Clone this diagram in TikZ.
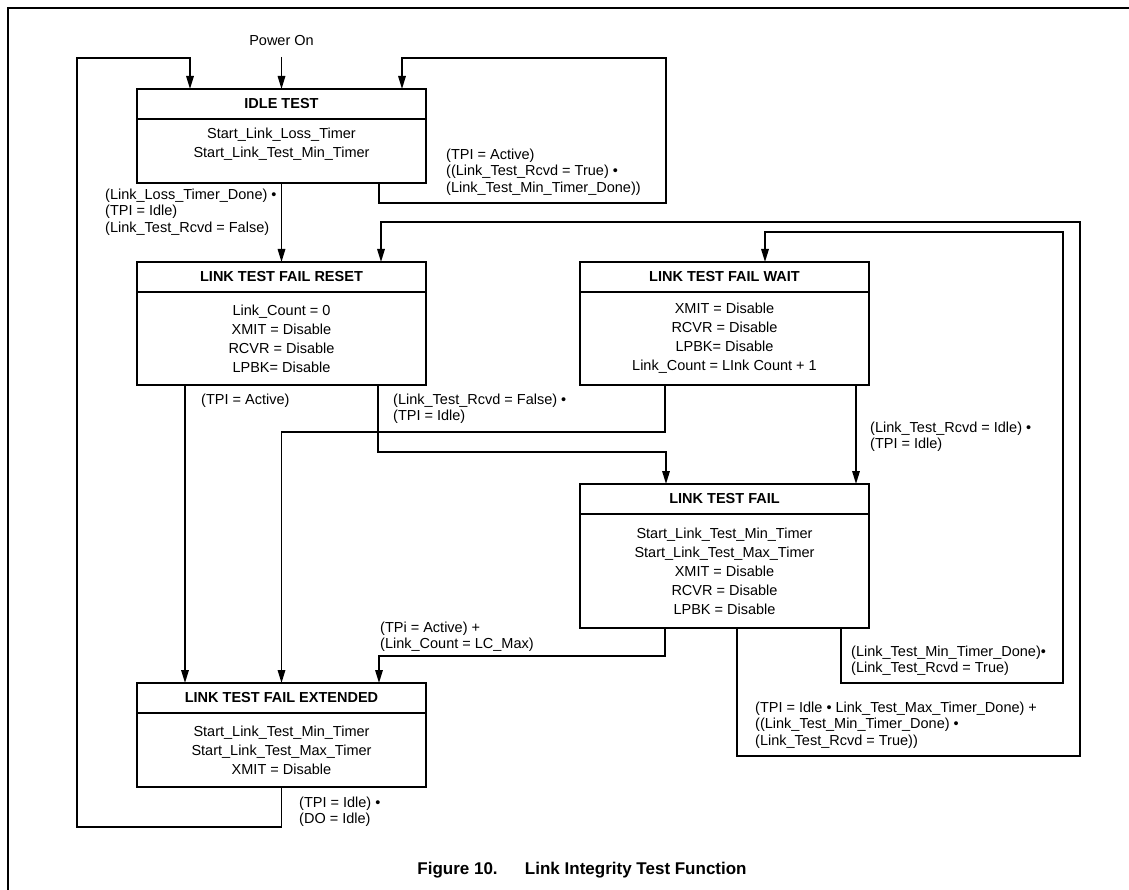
\documentclass[tikz,border=0pt]{standalone}
\usepackage{fontspec}
\setmainfont{Liberation Sans}
\usepackage{tikz}
\usetikzlibrary{arrows.meta, positioning}

\begin{document}
\begin{tikzpicture}[
    x=1pt, y=-1pt,
    every node/.style={font=\fontsize{14.5}{19}\selectfont},
    head/.style={rectangle, draw, line width=1.8pt, minimum width=289pt,
                 minimum height=30pt, outer sep=0pt, inner sep=0pt,
                 font=\fontsize{14.5}{19}\selectfont\bfseries},
    body/.style={rectangle, draw, line width=1.8pt, minimum width=289pt,
                 outer sep=0pt, align=center},
    cond/.style={align=left, inner sep=0pt, anchor=north west,
                 font=\fontsize{14.5}{16.5}\selectfont},
    arrow/.style={-{Triangle[length=13pt, width=7.5pt]}, line width=1.6pt},
    pageframe/.style={line width=2.4pt},
  ]
  \useasboundingbox (0,0) rectangle (1129,890);
  \draw[pageframe] (1129,8) -- (8,8) -- (8,890);

  % States
  \node[head] (idle) at (281.5,104) {IDLE TEST};
  \node[body, below=0pt of idle, minimum height=64pt] (idlebody)
    {Start\_Link\_Loss\_Timer\\Start\_Link\_Test\_Min\_Timer\\[-3pt]\mbox{}};

  \node[head, below=79pt of idlebody] (reset) {LINK TEST FAIL RESET};
  \node[body, below=0pt of reset, minimum height=93pt] (resetbody)
    {Link\_Count = 0\\XMIT = Disable\\RCVR = Disable\\LPBK= Disable};

  \node[head, right=154pt of reset] (wait) {LINK TEST FAIL WAIT};
  \node[body, below=0pt of wait, minimum height=93pt] (waitbody)
    {XMIT = Disable\\RCVR = Disable\\LPBK= Disable\\Link\_Count = LInk Count + 1};

  \node[head, below=99pt of waitbody] (fail) {LINK TEST FAIL};
  \node[body, below=0pt of fail, minimum height=114pt] (failbody)
    {Start\_Link\_Test\_Min\_Timer\\Start\_Link\_Test\_Max\_Timer\\XMIT = Disable\\RCVR = Disable\\LPBK = Disable};

  \node[head, below=298pt of resetbody] (ext) {LINK TEST FAIL EXTENDED};
  \node[body, below=0pt of ext, minimum height=74pt] (extbody)
    {Start\_Link\_Test\_Min\_Timer\\Start\_Link\_Test\_Max\_Timer\\XMIT = Disable};

  \node[above=32pt of idle, inner ysep=11pt] (pwr) {Power On};

  % Turn points
  \coordinate (lcorner) at (77,58);
  \coordinate (tcorner) at (666,58);
  \coordinate (ocorner) at (1080,222);
  \coordinate (icorner) at (1063,232);

  % Conditions
  \node[cond] (lossc) at (105,188.5)
    {(Link\_Loss\_Timer\_Done) •\\(TPI = Idle)\\(Link\_Test\_Rcvd = False)};
  \node[cond] (idlec) at (446,148.5)
    {(TPI = Active)\\((Link\_Test\_Rcvd = True) •\\(Link\_Test\_Min\_Timer\_Done))};
  \node[cond] (activec) at (201,393.5) {(TPI = Active)};
  \node[cond] (falsec) at (393,393.5) {(Link\_Test\_Rcvd = False) •\\(TPI = Idle)};
  \node[cond] (waitc) at (870,421.5) {(Link\_Test\_Rcvd = Idle) •\\(TPI = Idle)};
  \node[cond] (maxc) at (380,621.5) {(TPi = Active) +\\(Link\_Count = LC\_Max)};
  \node[cond] (minc) at (851,645.5) {(Link\_Test\_Min\_Timer\_Done)•\\(Link\_Test\_Rcvd = True)};
  \node[cond] (resetc) at (755,701.5)
    {(TPI = Idle • Link\_Test\_Max\_Timer\_Done) +\\((Link\_Test\_Min\_Timer\_Done) •\\(Link\_Test\_Rcvd = True))};
  \node[cond] (doc) at (299,796.5) {(TPI = Idle) •\\(DO = Idle)};

  % Caption
  \node[font=\fontsize{17}{20}\selectfont\bfseries] (cap) at (582,870)
    {Figure 10.\hspace{21pt} Link Integrity Test Function};

  % Arrows
  \draw[arrow] (pwr) -- (idle);
  \draw[arrow] (extbody.south) -- ++(0,40) -| (lcorner) -| ([xshift=-91.5pt]idle.north);
  \draw[arrow] ([xshift=97.5pt]idlebody.south) -- ++(0,20) -| (tcorner) -| ([xshift=120.5pt]idle.north);
  \draw[arrow] (idlebody) -- (reset);
  \draw[arrow] ([xshift=-96.5pt]resetbody.south) -- ([xshift=-96.5pt]ext.north);
  \draw[arrow] ([xshift=96.5pt]resetbody.south) -- ++(0,67) -| ([xshift=-58.5pt]fail.north);
  \draw[arrow] ([xshift=-59.5pt]waitbody.south) -- ++(0,47) -| (ext.north);
  \draw[arrow] ([xshift=131.5pt]waitbody.south) -- ([xshift=131.5pt]fail.north);
  \draw[arrow] ([xshift=-59.5pt]failbody.south) -- ++(0,28) -| ([xshift=97.5pt]ext.north);
  \draw[arrow] ([xshift=116.5pt]failbody.south) -- ++(0,55) -| (icorner) -| ([xshift=40.5pt]wait.north);
  \draw[arrow] ([xshift=12.5pt]failbody.south) -- ++(0,128) -| (ocorner) -| ([xshift=99.5pt]reset.north);
\end{tikzpicture}
\end{document}
